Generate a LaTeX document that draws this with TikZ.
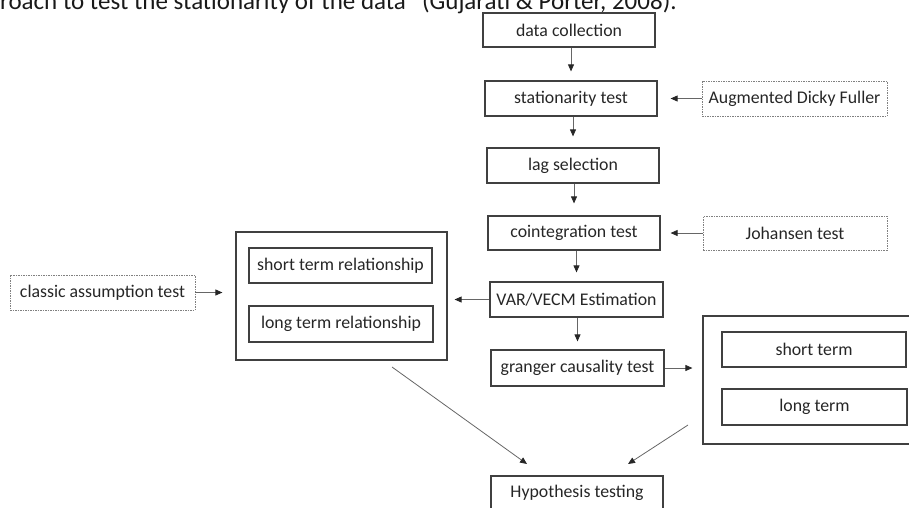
\documentclass[tikz,border=0pt]{standalone}
\usepackage{fontspec}
\setmainfont{Carlito}
\usetikzlibrary{arrows.meta}
\begin{document}
\begin{tikzpicture}[x=1pt,y=-1pt,
  box/.style={draw=black!75, line width=1.2pt, text=black!85, font=\fontsize{17.8}{20}\selectfont, inner sep=0pt, minimum height=35pt},
  dbox/.style={box, draw=black!50, line width=0.9pt, dash pattern=on 1.5pt off 1pt},
  outerbox/.style={draw=black!75, line width=1.2pt, inner sep=0pt},
  arr/.style={draw=black!60, line width=0.8pt, -{Triangle[length=7pt,width=6pt,color=black!85]}},
]
\useasboundingbox (0,0) rectangle (909,507);
\clip (0,0) rectangle (909,507);

\node[anchor=base west, inner sep=0pt, font=\fontsize{25}{30}\selectfont, text=black!90] (toptext) at (0,9.3) {roach to test the stationarity of the data” (Gujarati \& Porter, 2008).};

% main column
\node[box, minimum width=172pt, minimum height=34pt] (dc) at (569,30) {data collection};
\node[box, minimum width=172pt] (st) at (571,98.5) {stationarity test};
\node[dbox, minimum width=185pt] (adf) at (794.5,98.5) {Augmented Dicky Fuller};
\node[box, minimum width=172pt] (lag) at (573,165.5) {lag selection};
\node[box, minimum width=172pt, minimum height=34pt] (ci) at (574,233) {cointegration test};
\node[dbox, minimum width=184pt, minimum height=34pt] (jo) at (795,233) {Johansen test};
\node[box, minimum width=173pt] (var) at (576.5,299.5) {VAR/VECM Estimation};
\node[box, minimum width=173pt, minimum height=36pt] (gr) at (577.5,368) {granger causality test};
\node[box, minimum width=172pt, minimum height=34pt] (hyp) at (577,493) {Hypothesis testing};

% left group
\node[dbox, minimum width=185pt] (ca) at (102.5,292.5) {classic assumption test};
\node[outerbox, minimum width=211pt, minimum height=128pt] (lo) at (341.5,296) {};
\node[box, minimum width=183pt] (str) at (340.5,265.5) {short term relationship};
\node[box, minimum width=184pt, minimum height=36pt] (ltr) at (341,324) {long term relationship};

% right group
\node[outerbox, minimum width=222pt, minimum height=128pt] (ro) at (814,380) {};
\node[box, minimum width=184pt] (sterm) at (814,349.5) {short term};
\node[box, minimum width=185pt, minimum height=36pt] (lterm) at (814.5,407) {long term};

% connectors
\draw[arr, shorten >=9pt] (dc.south -| st.north) -- (st.north);
\draw[arr, shorten >=11pt] (st.south -| lag.north) -- (lag.north);
\draw[arr, shorten >=12pt] (lag.south -| ci.north) -- (ci.north);
\draw[arr, shorten >=9pt] (ci.south -| var.north) -- (var.north);
\draw[arr, shorten >=8pt] (var.south -| gr.north) -- (gr.north);
\draw[arr, shorten >=13pt] (adf.west) -- (adf.west -| st.east);
\draw[arr, shorten >=10pt] (jo.west) -- (jo.west -| ci.east);
\draw[arr, shorten >=7pt] (var.west) -- (var.west -| lo.east);
\draw[arr, shorten >=13pt] (ca.east) -- (ca.east -| lo.west);
\draw[arr, shorten >=10pt] (gr.east) -- (gr.east -| ro.west);

\coordinate (d1s) at (392,367);
\coordinate (d1e) at (527,464);
\coordinate (d2s) at (688,425);
\coordinate (d2e) at (628,464);
\draw[arr] (d1s) -- (d1e);
\draw[arr] (d2s) -- (d2e);
\end{tikzpicture}
\end{document}
